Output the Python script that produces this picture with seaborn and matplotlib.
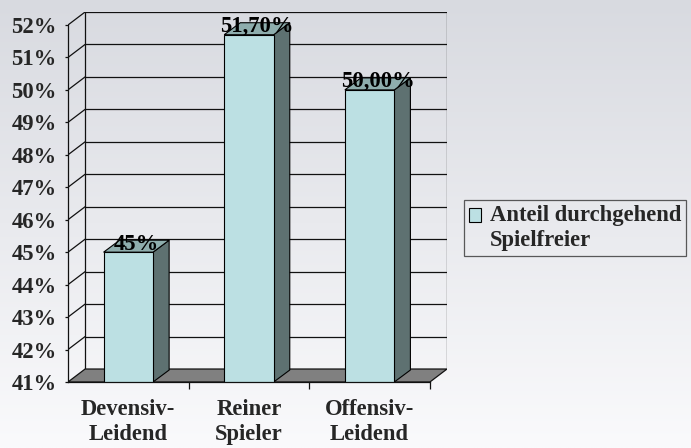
import numpy as np
import pandas as pd
import matplotlib
matplotlib.use("Agg")
import matplotlib.pyplot as plt
from matplotlib.patches import Polygon
import seaborn as sns

# ---- data ----
categories = ["Devensiv-\nLeidend", "Reiner\nSpieler", "Offensiv-\nLeidend"]
values = [45.0, 51.7, 50.0]
value_labels = ["45%", "51,70%", "50,00%"]
series_name = "Anteil durchgehend\nSpielfreier"
y_ticks = list(range(41, 53))
y_tick_labels = [f"{t}%" for t in y_ticks]

sns.set_style("white")
plt.rcParams["font.family"] = ["Liberation Serif", "DejaVu Serif"]
plt.rcParams["font.weight"] = "bold"

FS = 16.3
W, H, DPI = 691, 448, 100
fig = plt.figure(figsize=(W / DPI, H / DPI), dpi=DPI)

# background gradient
bg = fig.add_axes([0, 0, 1, 1], zorder=-10)
grad = np.linspace(0, 1, 256)[:, None]
top = np.array([216, 218, 224]) / 255
bot = np.array([250, 250, 252]) / 255
img = top[None, None, :] * (1 - grad[:, :, None]) + bot[None, None, :] * grad[:, :, None]
img = np.repeat(img, 4, axis=1)
bg.imshow(img, aspect="auto", extent=[0, 1, 0, 1])
bg.set_axis_off()

# geometry (pixels -> data units)
cat_px = 120.0
pct_px = 32.5
dxw, dyw = 17 / cat_px, 13 / pct_px   # wall depth
dxb, dyb = 16 / cat_px, 12 / pct_px   # bar depth

left_px, right_px, bottom_px, top_px = 68, 447, 382, 12
ax = fig.add_axes([left_px / W, (H - bottom_px) / H,
                   (right_px - left_px) / W, (bottom_px - top_px) / H])
ax.set_facecolor("none")

df = pd.DataFrame({"cat": categories, "val": values})
front_c = "#BCE0E3"
side_c = "#5E7171"
top_c = "#8EADAD"
sns.barplot(data=df, x="cat", y="val", ax=ax, color=front_c, width=0.41,
            edgecolor="black", linewidth=0.8, saturation=1, label=series_name,
            zorder=5)
bars = list(ax.patches)

ax.set_xlim(-0.5, 2.5 + dxw)
ax.set_ylim(41, 52 + dyw)

lc = "#111111"
# back wall
x0w, x1w = -0.5 + dxw, 2.5 + dxw
for v in y_ticks[1:]:
    ax.plot([x0w, x1w], [v + dyw, v + dyw], color=lc, lw=0.9, zorder=1)
    ax.plot([-0.5, x0w], [v, v + dyw], color=lc, lw=0.9, zorder=1)
ax.plot([x0w, x0w], [41 + dyw, 52 + dyw], color=lc, lw=0.9, zorder=1)
ax.plot([x1w, x1w], [41 + dyw, 52 + dyw], color=lc, lw=0.9, zorder=1)
# floor
floor = Polygon([(-0.5, 41), (2.5, 41), (2.5 + dxw, 41 + dyw), (-0.5 + dxw, 41 + dyw)],
                closed=True, facecolor="#808080", edgecolor=lc, lw=0.9, zorder=2)
ax.add_patch(floor)

# 3D faces of bars
for i, p in enumerate(bars):
    x0 = p.get_x()
    x1 = x0 + p.get_width()
    h = values[i]
    side = Polygon([(x1, 41), (x1 + dxb, 41 + dyb), (x1 + dxb, h + dyb), (x1, h)],
                   closed=True, facecolor=side_c, edgecolor="black", lw=0.8, zorder=4)
    topf = Polygon([(x0, h), (x1, h), (x1 + dxb, h + dyb), (x0 + dxb, h + dyb)],
                   closed=True, facecolor=top_c, edgecolor="black", lw=0.8, zorder=4)
    ax.add_patch(side)
    ax.add_patch(topf)
    ax.text((x0 + x1 + dxb) / 2, h + 0.08, value_labels[i], ha="center", va="baseline",
            fontsize=FS, fontweight="bold", zorder=10, color="black")

# axes styling
for s in ["top", "right"]:
    ax.spines[s].set_visible(False)
ax.spines["left"].set_bounds(41, 52)
ax.spines["bottom"].set_bounds(-0.5, 2.5)
for s in ["left", "bottom"]:
    ax.spines[s].set_color(lc)
    ax.spines[s].set_linewidth(0.9)
    ax.spines[s].set_zorder(6)

ax.set_yticks(y_ticks)
ax.set_yticklabels(y_tick_labels, fontsize=FS, fontweight="bold")
ax.tick_params(axis="y", length=2.2, width=0.9, color=lc, pad=6, left=True)
ax.set_xticks([0, 1, 2])
ax.set_xticklabels(categories, fontsize=FS, fontweight="bold", linespacing=1.3)
ax.set_xticks([0.5, 1.5, 2.5], minor=True)
ax.tick_params(axis="x", which="major", length=0, pad=12)
ax.tick_params(axis="x", which="minor", length=5, width=0.9, color=lc, bottom=True)
ax.set_xlabel("")
ax.set_ylabel("")
ax.grid(False)

# legend
leg = ax.legend(loc="upper left", bbox_to_anchor=(464 / W, 1 - 200 / H),
                bbox_transform=fig.transFigure, frameon=True, fancybox=False,
                prop={"family": "Liberation Serif", "weight": "bold", "size": FS},
                handlelength=0.55, handleheight=0.6, handletextpad=0.4,
                borderpad=0.2, borderaxespad=0)
leg.get_frame().set_edgecolor("#333333")
leg.get_frame().set_facecolor("none")
leg.get_frame().set_linewidth(0.9)
for t in leg.get_texts():
    t.set_linespacing(1.3)
hnd = leg.legend_handles[0]
hnd.set_y(hnd.get_y() + 9.5)

fig.savefig("out.png", dpi=DPI)
